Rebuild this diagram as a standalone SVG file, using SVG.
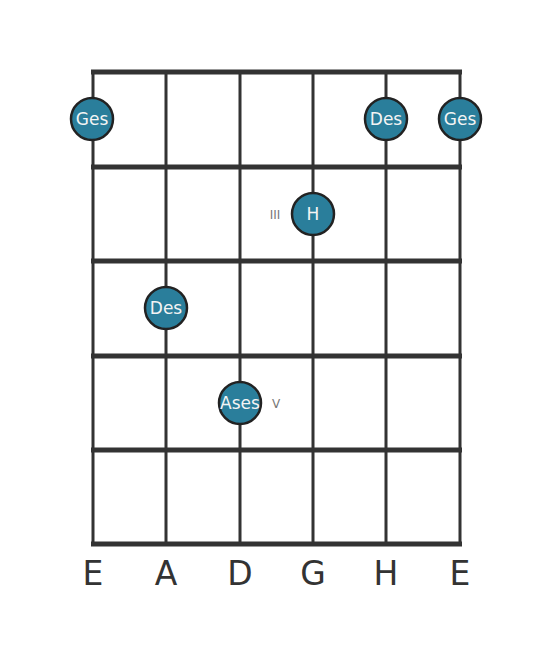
<svg xmlns="http://www.w3.org/2000/svg" width="553" height="656" viewBox="0 0 553 656">
<style>
.fret{stroke:#333;stroke-width:5;fill:none}
.str{stroke:#333;stroke-width:3;fill:none}
.note circle{fill:#2a7e9b;stroke:#222;stroke-width:2.5}
.note text{fill:#f4f4f4;font-family:"DejaVu Sans",sans-serif;font-size:17px;text-anchor:middle;dominant-baseline:central}
.fn{fill:#777;font-family:"DejaVu Sans",sans-serif;font-size:12px;text-anchor:middle;dominant-baseline:central}
.sn{fill:#333;font-family:"DejaVu Sans",sans-serif;font-size:33px;text-anchor:middle}
</style>
<rect width="553" height="656" fill="#fff"/>
<g id="connectors">
<line class="str" x1="93" y1="72" x2="93" y2="544"/>
<line class="str" x1="166" y1="72" x2="166" y2="544"/>
<line class="str" x1="240" y1="72" x2="240" y2="544"/>
<line class="str" x1="313" y1="72" x2="313" y2="544"/>
<line class="str" x1="386" y1="72" x2="386" y2="544"/>
<line class="str" x1="460" y1="72" x2="460" y2="544"/>
<line class="fret" x1="91" y1="72" x2="462" y2="72"/>
<line class="fret" x1="91" y1="167" x2="462" y2="167"/>
<line class="fret" x1="91" y1="261" x2="462" y2="261"/>
<line class="fret" x1="91" y1="356" x2="462" y2="356"/>
<line class="fret" x1="91" y1="450" x2="462" y2="450"/>
<line class="fret" x1="91" y1="544" x2="462" y2="544"/>
</g>
<g id="n1" class="note"><circle cx="92" cy="119" r="21"/><text x="92" y="119">Ges</text></g>
<g id="n2" class="note"><circle cx="386" cy="119" r="21"/><text x="386" y="119">Des</text></g>
<g id="n3" class="note"><circle cx="460" cy="119" r="21"/><text x="460" y="119">Ges</text></g>
<g id="n4" class="note"><circle cx="313" cy="214" r="21"/><text x="313" y="214">H</text></g>
<g id="n5" class="note"><circle cx="166" cy="308" r="21"/><text x="166" y="308">Des</text></g>
<g id="n6" class="note"><circle cx="240" cy="403" r="21"/><text x="240" y="403">Ases</text></g>
<text class="fn" x="275" y="215">III</text>
<text class="fn" x="276" y="404">V</text>
<text class="sn" x="93" y="585">E</text>
<text class="sn" x="166" y="585">A</text>
<text class="sn" x="240" y="585">D</text>
<text class="sn" x="313" y="585">G</text>
<text class="sn" x="386" y="585">H</text>
<text class="sn" x="460" y="585">E</text>
</svg>
